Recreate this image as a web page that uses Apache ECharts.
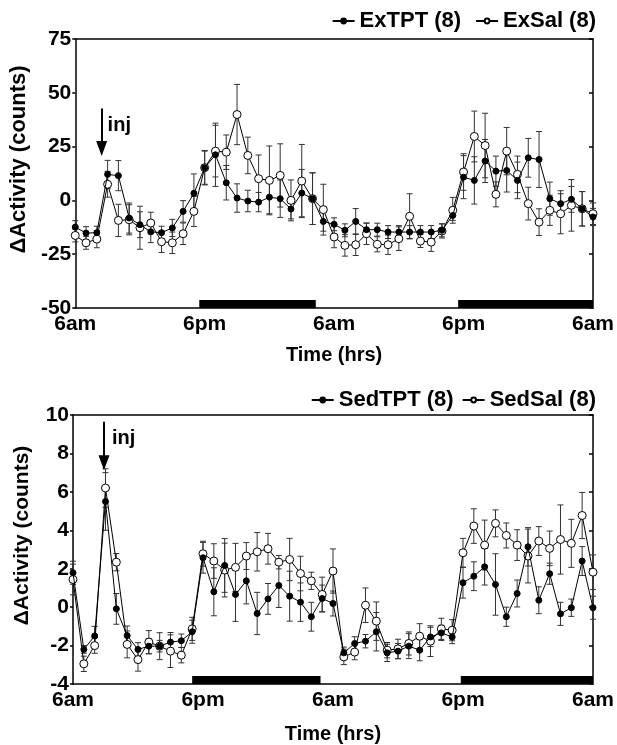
<!DOCTYPE html>
<html><head><meta charset="utf-8">
<script src="https://cdn.jsdelivr.net/npm/echarts@6/dist/echarts.min.js"></script>
<style>html,body{margin:0;padding:0;background:#fff}#c{width:617px;height:745px}</style>
</head><body><div id="c"></div>
<script>
const hours = [0,1,2,3,4,5,6,7,8,9,10,11,12,13,14,15,16,17,18,19,20,21,22,23,24,25,26,27,28,29,30,31,32,33,34,35,36,37,38,39,40,41,42,43,44,45,46,47,48];
const tickLabels = ['6am','6pm','6am','6pm','6am'];

const exTPT = [-12.4,-15.2,-15,12.1,11.5,-8.2,-11.3,-14.6,-15,-12.8,-5.1,3.3,15.2,21.2,8.2,1.1,-0.3,-0.8,1.5,0.8,-4.0,3.4,0.8,-9.8,-11.1,-13.9,-9.8,-13.6,-13.6,-14.7,-14.7,-14.7,-14.7,-14.7,-13.9,-7.0,10.8,9.3,18.3,13.6,13.9,9.3,19.8,19.0,0.8,-1.5,0.5,-3.9,-7.7];
const exTPTErr = [3,3,3,6.5,7,7,6,5,3,4,5,9,7.7,14.7,8,6.6,5,4.5,7.7,8.7,4.6,11,12,4.5,3,3,6,3,3,3,3,3,3,3,3,2.3,10,11,10,7,10,8.5,9,13,7.7,6,6,8,4];
const exSal = [-16.3,-19.7,-18,7.5,-9.3,-9,-12.7,-10.5,-19.2,-19.7,-15.5,-5.1,15.2,22.9,22.4,39.9,20.9,10.1,9.3,11.6,0,9.0,0.8,-4.3,-17,-20.9,-20.6,-15.5,-20.4,-20.6,-17.8,-7.4,-18.9,-19.4,-14.2,-4.6,13.2,29.7,25.5,2.8,22.9,12.1,-1.5,-10.1,-4.6,-6.2,-2.3,-3.9,-6.2];
const exSalErr = [3,3,4,6,7.5,7,10,5,5,5,5,7,8,12,8,14,8.5,11,16,14.7,9.5,17,12,11.8,5,5,5,5,3.5,4.5,5.5,10.5,3,4.3,3.3,6,8.5,11.8,15,5.8,11,8.5,7.6,6.2,7,9.3,12,8,5];

const sedTPT = [1.79,-2.2,-1.5,5.5,-0.09,-1.48,-2.2,-2.03,-2.03,-1.82,-1.75,-1.28,2.57,0.8,2.17,0.66,1.37,-0.33,0.43,1.13,0.57,0.26,-0.5,0.45,0.19,-2.38,-1.89,-1.77,-1.28,-2.38,-2.29,-2.03,-2.24,-1.55,-1.34,-1.55,1.27,1.61,2.1,1.18,-0.5,0.71,3.14,0.36,1.74,-0.35,-0.03,2.4,-0.03];
const sedTPTErr = [0.6,0.2,0.5,1.5,0.8,0.5,0.35,0.4,0.3,0.5,0.35,0.6,0.8,1.25,1.4,1.4,1.2,1.1,0.8,1.15,1.3,1.0,0.75,0.7,0.65,0.3,0.35,0.35,1.0,0.45,0.4,0.65,0.55,0.5,0.4,0.35,0.8,0.75,0.95,1.6,0.5,0.7,1.0,0.7,0.55,0.6,0.45,0.75,0.6];
const sedSal = [1.44,-2.95,-2.0,6.2,2.34,-1.94,-2.73,-1.82,-2.03,-2.29,-2.5,-1.13,2.78,2.4,1.93,2.07,2.66,2.88,3.04,2.34,2.48,1.75,1.37,0.66,1.88,-2.59,-2.34,0.1,-0.73,-2.24,-2.17,-1.89,-1.51,-1.77,-1.13,-1.2,2.83,4.22,3.23,4.36,3.73,3.23,2.66,3.44,3.06,3.52,3.32,4.77,1.82];
const sedSalErr = [0.8,0.4,0.4,1.0,0.45,0.7,0.6,0.6,0.7,0.85,0.4,0.6,0.65,0.9,1.4,1.25,0.7,1.0,0.8,0.35,1.1,0.9,0.45,0.9,1.15,0.4,0.4,0.9,1.0,0.4,0.5,0.6,0.65,0.8,0.55,0.55,0.75,0.9,1.3,0.7,0.65,0.8,1.4,0.75,0.9,1.8,1.25,1.2,0.9];

const darkTop = [[11.5,22.3],[35.5,48]];
const darkBottom = [[11.0,22.85],[35.8,48]];
const injTop = {x:2.45, from:42.7, to:24.1, textX:3.0, textY:34.8};
const injBottom = {x:2.86, from:9.65, to:7.52, textX:3.6, textY:8.8};

const FONT = 'Liberation Sans, Arial, sans-serif';
const chart = echarts.init(document.getElementById('c'));

function pairs(v){ return hours.map((h,i)=>[h, v[i]]); }
function errData(v,e){ return hours.map((h,i)=>[h, v[i]-e[i], v[i]+e[i]]); }

function errSeries(v,e,gi){
  return {type:'custom', xAxisIndex:gi, yAxisIndex:gi*2, z:2, silent:true,
    data: errData(v,e),
    renderItem:function(params, api){
      const x=api.value(0);
      const p1=api.coord([x, api.value(1)]), p2=api.coord([x, api.value(2)]);
      const w=3;
      const st={stroke:'#333', lineWidth:1};
      return {type:'group', children:[
        {type:'line', shape:{x1:p1[0],y1:p1[1],x2:p2[0],y2:p2[1]}, style:st},
        {type:'line', shape:{x1:p1[0]-w,y1:p1[1],x2:p1[0]+w,y2:p1[1]}, style:st},
        {type:'line', shape:{x1:p2[0]-w,y1:p2[1],x2:p2[0]+w,y2:p2[1]}, style:st}
      ]};
    }};
}
function darkSeries(d,gi){
  return {type:'custom', xAxisIndex:gi, yAxisIndex:gi*2, z:5, silent:true, data:d,
    renderItem:function(params, api){
      const cs=params.coordSys;
      const x1=api.coord([api.value(0),0])[0], x2=api.coord([api.value(1),0])[0];
      const bottom=cs.y+cs.height;
      return {type:'rect', shape:{x:x1,y:bottom-8,width:x2-x1,height:8}, style:{fill:'#000'}};
    }};
}
function lineSeries(name, v, filled, gi, inj){
  const s = {type:'line', name:name, xAxisIndex:gi, yAxisIndex:gi*2, z:filled?4:3,
    data:pairs(v), symbol:'circle', symbolSize: filled?6:8, showSymbol:true,
    lineStyle:{color:'#000', width:1},
    itemStyle:{color: filled?'#000':'#fff', borderColor:'#000', borderWidth:1},
    emphasis:{disabled:true}, animation:false};
  if(inj){
    s.markLine = {silent:true, symbol:['none','triangle'], symbolSize:[11,15], animation:false,
      lineStyle:{color:'#000', width:2, type:'solid'}, label:{show:false},
      data:[[{coord:[inj.x, inj.from]},{coord:[inj.x, inj.to]}]]};
    s.markPoint = {silent:true, symbol:'circle', symbolSize:0, animation:false,
      label:{show:true, position:'right', distance:0, formatter:'inj', color:'#000', fontFamily:FONT, fontWeight:'bold', fontSize:20},
      data:[{coord:[inj.textX, inj.textY]}]};
  }
  return s;
}

const grids = [
  {left:75, top:39, width:522, height:269},
  {left:73, top:415, width:523, height:270}
];
const frameLine = {show:true, onZero:false, lineStyle:{color:'#000', width:1.5}};
function xAx(gi, gap){
  return {type:'value', gridIndex:gi, min:0, max:48, interval:12, position:'bottom',
    name:'Time (hrs)', nameLocation:'middle', nameGap:gap,
    nameTextStyle:{color:'#000', fontFamily:FONT, fontWeight:'bold', fontSize:20},
    axisLine:frameLine,
    axisTick:{show:false}, splitLine:{show:false},
    axisLabel:{color:'#000', fontFamily:FONT, fontWeight:'bold', fontSize:21, margin:6,
      formatter:function(v){return tickLabels[Math.round(v/12)];}}};
}
function xTop(gi){
  return {type:'value', gridIndex:gi, min:0, max:48, position:'top', axisLine:frameLine,
    axisTick:{show:false}, axisLabel:{show:false}, splitLine:{show:false}};
}
function yAx(gi,min,max,iv,gap,nfs){
  return [{type:'value', gridIndex:gi, min:min, max:max, interval:iv, position:'left',
    name:'ΔActivity (counts)', nameLocation:'middle', nameGap:gap,
    nameTextStyle:{color:'#000', fontFamily:FONT, fontWeight:'bold', fontSize:nfs, padding:[0,0,0,28]},
    axisLine:frameLine,
    axisTick:{show:true, inside:false, length:3, lineStyle:{color:'#000', width:1.5}},
    splitLine:{show:false},
    axisLabel:{color:'#000', fontFamily:FONT, fontWeight:'bold', fontSize:21, margin:4}},
   {type:'value', gridIndex:gi, min:min, max:max, interval:iv, position:'right',
    axisLine:frameLine,
    axisTick:{show:true, inside:true, length:4, lineStyle:{color:'#000', width:1.5}},
    axisLabel:{show:false}, splitLine:{show:false}}];
}
const legendStyle = {color:'#000', fontFamily:FONT, fontWeight:'bold', fontSize:22};

chart.setOption({
  animation:false,
  backgroundColor:'#fff',
  grid:grids,
  legend:[
    {data:['ExTPT (8)','ExSal (8)'], right:16, top:5, itemGap:14, itemWidth:22, itemHeight:6, textStyle:legendStyle},
    {data:['SedTPT (8)','SedSal (8)'], right:16, top:384, itemGap:8, itemWidth:22, itemHeight:6, textStyle:legendStyle}
  ],
  xAxis:[xAx(0,37), xAx(1,40), xTop(0), xTop(1)],
  yAxis:[...yAx(0,-50,75,25,42,22), ...yAx(1,-4,10,2,40,21)],
  series:[
    errSeries(exTPT, exTPTErr, 0),
    errSeries(exSal, exSalErr, 0),
    lineSeries('ExSal (8)', exSal, false, 0, null),
    lineSeries('ExTPT (8)', exTPT, true, 0, injTop),
    darkSeries(darkTop, 0),
    errSeries(sedTPT, sedTPTErr, 1),
    errSeries(sedSal, sedSalErr, 1),
    lineSeries('SedSal (8)', sedSal, false, 1, null),
    lineSeries('SedTPT (8)', sedTPT, true, 1, injBottom),
    darkSeries(darkBottom, 1)
  ]
});
</script></body></html>
